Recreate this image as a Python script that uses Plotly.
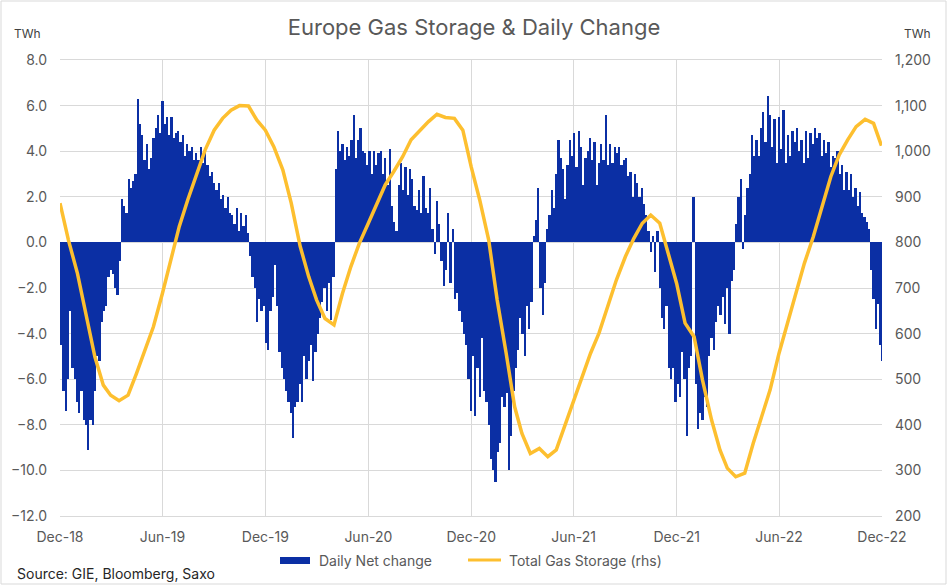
import pandas as pd
import plotly.graph_objects as go

# Daily net change (TWh) in 4-day steps from 1 Dec 2018
net_change = [
    -4.5, -6.5, -7.4, -6.0, -3.0, -5.5, -6.0, -7.0, -7.5, -6.5,
    -7.8, -8.0, -9.1, -7.8, -8.0, -6.5, -5.0, -5.2, -3.5, -3.0,
    -2.8, -1.5, -1.2, -1.4, -2.0, -2.3, -0.8, 1.9, 1.6, 1.3,
    2.8, 2.4, 2.7, 3.0, 6.3, 5.2, 4.7, 3.6, 4.3, 3.2,
    3.7, 4.6, 5.0, 5.6, 4.8, 6.2, 5.2, 5.5, 4.7, 5.5,
    4.6, 4.8, 4.9, 4.4, 4.7, 3.8, 4.3, 4.0, 4.2, 3.6,
    3.9, 3.6, 4.2, 3.5, 3.9, 3.4, 2.9, 3.1, 2.6, 2.3,
    2.6, 1.9, 2.1, 1.5, 2.0, 1.3, 1.2, 0.8, 1.5, 0.5,
    1.3, 0.7, 1.2, 0.4, -0.6, -1.5, -2.0, -3.5, -2.5, -3.0,
    -2.8, -4.4,
    -4.7, -3.0, -2.4, -1.0, -2.8, -4.8, -5.5, -6.0, -6.5, -7.0,
    -7.5, -8.6, -7.2, -7.0, -6.2, -7.0, -5.0, -6.0, -5.2, -4.5,
    -6.1, -4.8, -4.0, -3.3, -2.6, -2.0, -3.0, -1.8, -3.4, -1.5,
    3.2, 4.9, 4.0, 4.3, 3.6, 4.2, 3.8, 4.5, 5.6, 3.7,
    4.5, 5.0, 4.0, 3.9, 3.4, 4.0, 3.0, 4.0, 3.4, 3.9,
    4.0, 3.0, 3.7, 2.5, 4.1, 1.6, 0.9, 0.5, 2.5, 3.5,
    2.3, 3.3, 2.1, 3.2, 2.8, 1.6, 1.4, 2.3, 1.3, 2.9,
    1.5, 1.3, 2.4, 0.6, -0.5, 1.8, 0.8, -0.8, -1.9, -1.2,
    1.3, -1.8, 0.6, -2.5, -2.2, -3.0, -3.5, -4.0,
    -4.5, -6.0, -7.4, -5.0, -7.6, -5.5, -6.8, -4.2, -6.5, -7.0,
    -8.0, -9.5, -10.0, -10.5, -9.2, -8.8, -6.8, -7.2, -6.6, -10.0,
    -8.5, -6.5, -5.5, -4.7, -3.3, -4.0, -5.0, -2.8, -3.8, -2.6,
    0.3, 1.0, 2.4, -2.0, -3.2, -1.8, 0.6, 1.2, 2.3, 1.5,
    3.0, 4.5, 3.7, 3.2, 1.9, 3.4, 4.5, 3.8, 4.8, 3.3,
    4.9, 4.2, 2.5, 3.7, 4.0, 4.6, 3.6, 4.4, 2.5, 3.5,
    4.3, 3.6, 5.6, 3.4, 4.3, 3.5, 4.2, 3.9, 4.2, 3.4,
    3.6, 3.7, 2.9, 3.1, 2.0, 3.0, 2.6, 2.0, 2.4, 1.7,
    1.2, 0.5, -0.4, 0.3, -1.3, 0.5, -2.0, -3.3, -3.8, -2.8,
    -5.5, -6.0,
    -5.5, -7.0, -6.2, -6.8, -4.8, -6.0, -8.5, -5.5, -5.0, 2.0,
    -6.2, -8.2, -7.5, -7.8, -6.8, -7.2, -5.0, -4.2, -4.7, -3.5,
    -2.8, -3.2, -2.4, -3.6, -2.0, -4.0, -1.7, -1.2, 0.8, 2.0,
    2.8, -0.3, 1.2, 2.4, 3.0, 4.7, 3.8, 4.5, 3.8, 5.0,
    5.7, 4.4, 6.4, 5.6, 4.2, 5.4, 3.5, 5.5, 4.1, 5.8,
    3.5, 4.7, 3.8, 4.9, 4.4, 5.0, 4.0, 4.5, 3.5, 4.9,
    3.7, 4.8, 4.3, 5.0, 4.6, 4.8, 3.8, 4.5, 3.9, 4.4,
    3.3, 3.8, 3.7, 4.0, 3.0, 3.4, 2.3, 3.1, 2.3, 3.0,
    2.0, 2.4, 1.6, 2.2, 1.3, 1.1, 0.9, 0.6, -1.2, -2.5,
    -3.8, -2.7, -4.5, -5.2,
]
net_dates = pd.date_range("2018-12-03", periods=len(net_change), freq="4D")

# Total gas storage (TWh), 1st and 16th of each month
storage = [
    886, 805,
    732, 644, 549, 487, 465, 453, 465, 513, 564, 615, 688, 761,
    835, 893, 951, 1003, 1046, 1072, 1090, 1100, 1099, 1068, 1046, 1010,
    959, 886, 791, 725, 674, 633, 619, 688, 747, 798, 842, 886,
    926, 955, 988, 1025, 1046, 1065, 1081, 1074, 1072, 1046, 965, 893,
    805, 674, 557, 440, 381, 337, 348, 330, 345, 396, 454, 502,
    557, 601, 663, 718, 769, 809, 842, 860, 842, 776, 710, 623,
    593, 498, 411, 345, 305, 286, 294, 359, 418, 476, 557, 623,
    688, 754, 813, 878, 944, 992, 1025, 1054, 1070, 1061, 1012,
]
months = pd.date_range("2018-12-01", "2022-11-01", freq="MS")
storage_dates = []
for m in months:
    storage_dates += [m, m + pd.Timedelta(days=15)]
storage_dates.append(pd.Timestamp("2022-11-30"))

tick_dates = pd.date_range("2018-12-01", "2022-12-01", freq="6MS")
tick_labels = [d.strftime("%b-%y") for d in tick_dates]

BLUE = "#0B2FA4"
GOLD = "#FDBF2F"
GRID = "#D9D9D9"
TXT = "#595959"
FONT = "Inter"

fig = go.Figure()
fig.add_trace(go.Bar(
    x=net_dates, y=net_change, name="Daily Net change",
    marker=dict(color=BLUE, line=dict(width=0)),
))
fig.add_trace(go.Scatter(
    x=storage_dates, y=storage, name="Total Gas Storage (rhs)",
    yaxis="y2", mode="lines", line=dict(color=GOLD, width=3.5),
))


def px_x(p):
    return (p - 60) / 822


def px_y(p):
    return (516 - p) / 456


fig.update_layout(
    width=948, height=586,
    margin=dict(l=60, r=66, t=60, b=70),
    paper_bgcolor="white", plot_bgcolor="white",
    font=dict(family=FONT, size=14, color=TXT),
    showlegend=False,
    bargap=0,
    title=dict(text="Europe Gas Storage & Daily Change", x=0.5, xanchor="center",
               y=1 - 27 / 586, yanchor="middle",
               font=dict(family=FONT, size=22, color=TXT)),
    xaxis=dict(
        range=["2018-12-01", "2022-12-01"], tickvals=tick_dates, ticktext=tick_labels,
        showgrid=True, gridcolor=GRID, showline=True, linecolor=GRID, mirror=True,
        ticks="", ticklabelstandoff=8, tickfont=dict(size=14, color=TXT),
    ),
    yaxis=dict(
        range=[-12, 8], dtick=2, tickformat=".1f", showgrid=True, gridcolor=GRID,
        zeroline=False, ticks="", ticklabelstandoff=12, tickfont=dict(size=14, color=TXT),
    ),
    yaxis2=dict(
        range=[200, 1200], dtick=100, tickformat=",", overlaying="y", side="right",
        showgrid=False, zeroline=False, ticks="", ticklabelstandoff=12,
        tickfont=dict(size=14, color=TXT),
    ),
    shapes=[
        dict(type="rect", xref="paper", yref="paper", x0=px_x(1), x1=px_x(946),
             y0=px_y(584), y1=px_y(1), line=dict(color=GRID, width=1)),
        dict(type="rect", xref="paper", yref="paper", x0=px_x(280), x1=px_x(310),
             y0=px_y(564), y1=px_y(557), fillcolor=BLUE, line=dict(width=0)),
        dict(type="line", xref="paper", yref="paper", x0=px_x(468), x1=px_x(501),
             y0=px_y(560), y1=px_y(560), line=dict(color=GOLD, width=3)),
    ],
    annotations=[
        dict(text="TWh", xref="paper", yref="paper", x=px_x(12), y=px_y(33),
             xanchor="left", yanchor="middle", showarrow=False,
             font=dict(size=12, color="#404040")),
        dict(text="TWh", xref="paper", yref="paper", x=px_x(902), y=px_y(33),
             xanchor="left", yanchor="middle", showarrow=False,
             font=dict(size=12, color="#404040")),
        dict(text="Daily Net change", xref="paper", yref="paper", x=px_x(317),
             y=px_y(560), xanchor="left", yanchor="middle", showarrow=False,
             font=dict(size=14, color=TXT)),
        dict(text="Total Gas Storage (rhs)", xref="paper", yref="paper", x=px_x(507),
             y=px_y(560), xanchor="left", yanchor="middle", showarrow=False,
             font=dict(size=14, color=TXT)),
        dict(text="Source: GIE, Bloomberg, Saxo", xref="paper", yref="paper",
             x=px_x(15), y=px_y(573), xanchor="left", yanchor="middle",
             showarrow=False, font=dict(size=14, color="#262626")),
    ],
)

# the page's default body margin would push the 948x586 figure out of the window
fig.write_html("out.html", config={"displayModeBar": False},
               post_script="document.body.style.margin = '0';")
